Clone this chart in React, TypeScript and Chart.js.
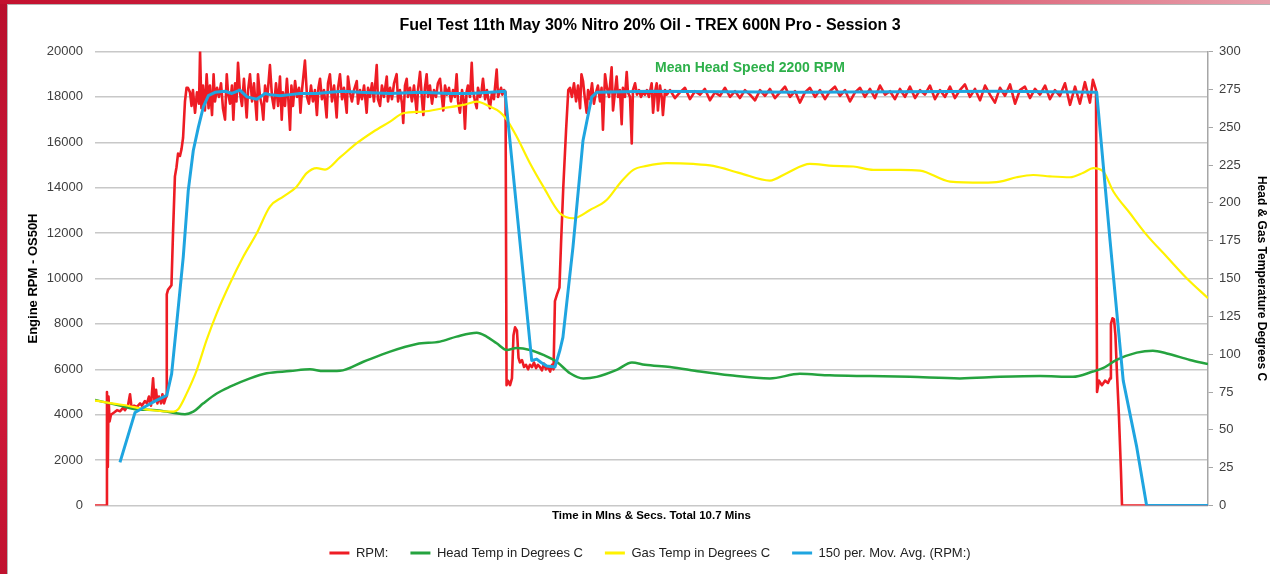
import React, { useEffect, useRef } from "react";
import { Chart, registerables } from "chart.js";

Chart.register(...registerables);

// ---- Data (time in seconds, total 10.7 mins = 642 s) ----
const totalSeconds = 642;

// [time s, RPM]
const rpmSeries: [number, number][] = [
  [0, 0], [6.6, 0], [6.9, 5000], [7.4, 1700], [7.8, 4800], [8.4, 3700], [9.2, 4000], [11.0, 4100],
  [12.7, 4200], [14.4, 4150], [16.2, 4300], [17.3, 4200], [19.0, 4400], [20.2, 4900], [21.1, 4300],
  [22.5, 4400], [24.2, 4350], [26.0, 4500], [27.1, 4400], [28.8, 4600], [30.0, 4500], [31.1, 4800],
  [32.3, 4400], [33.5, 5600], [34.3, 4600], [35.2, 5100], [36.0, 4500], [36.9, 4800], [38.1, 4500],
  [38.9, 4900], [39.8, 4500], [41.0, 4800], [41.4, 9300], [42.1, 9500], [44.1, 9700], [45.0, 12000],
  [46.1, 14500], [47.0, 14900], [47.9, 15500], [49.0, 15400], [49.9, 15700], [50.8, 16200], [51.9, 17800],
  [52.8, 18400], [53.6, 18400], [54.8, 18200], [55.7, 17600], [56.5, 18300], [57.7, 17300], [58.8, 18200],
  [60.0, 17700], [60.6, 20000], [61.4, 17500], [62.3, 18500], [63.4, 17400], [64.4, 19000], [65.5, 17500],
  [66.3, 18500], [67.5, 17200], [68.4, 19000], [69.2, 17800], [70.4, 18400], [71.5, 18000], [72.7, 18600],
  [73.8, 17500], [75.0, 17000], [76.0, 19000], [76.7, 18200], [77.9, 17700], [79.0, 18500], [79.8, 17000],
  [80.8, 18600], [81.6, 17800], [82.5, 19500], [83.6, 18200], [84.8, 17600], [85.9, 18800], [87.5, 17100],
  [88.3, 18300], [89.4, 19000], [90.6, 17800], [91.7, 18600], [93.3, 17000], [94.0, 19000], [95.2, 18000],
  [96.3, 17600], [97.1, 17000], [98.1, 18500], [99.2, 17800], [100.9, 19400], [102.1, 18000], [103.2, 17500],
  [104.4, 18600], [105.6, 17600], [106.7, 18900], [107.7, 17000], [108.4, 18200], [109.6, 17600], [110.7, 18800],
  [111.6, 17800], [112.5, 16550], [113.3, 18500], [114.2, 17600], [115.4, 18700], [116.5, 18000], [117.7, 18400],
  [118.5, 17300], [119.4, 18300], [121.1, 19600], [122.3, 18000], [123.4, 17700], [124.6, 18500], [125.7, 17800],
  [126.9, 18300], [128.0, 17200], [128.9, 18400], [129.8, 18800], [130.9, 17900], [132.1, 18300], [133.6, 17100],
  [134.4, 18600], [135.5, 19000], [136.7, 17800], [137.9, 18500], [139.4, 17100], [140.2, 18400], [141.3, 19000],
  [142.5, 17900], [143.6, 18400], [145.2, 17300], [145.9, 18900], [147.1, 18200], [148.2, 17800], [149.4, 18300],
  [151.0, 18700], [151.7, 17700], [152.9, 18300], [154.0, 17900], [155.2, 18500], [156.7, 17300], [157.5, 18400],
  [158.6, 18000], [159.8, 18600], [160.9, 17800], [162.5, 19400], [163.2, 17900], [164.4, 17600], [165.5, 18500],
  [166.7, 18000], [168.3, 18900], [169.0, 17800], [170.2, 18400], [171.3, 17900], [172.5, 18600], [174.0, 19000],
  [174.8, 17800], [175.9, 18300], [177.1, 17700], [177.8, 16850], [178.8, 18500], [179.8, 18800], [180.5, 18000],
  [181.7, 18400], [182.8, 17800], [184.0, 18500], [185.6, 17300], [186.3, 18300], [187.5, 19100], [188.6, 17900],
  [189.4, 17200], [190.3, 18400], [191.3, 19000], [192.1, 18000], [193.2, 18500], [194.4, 17700], [195.5, 18300],
  [196.7, 18000], [197.8, 18600], [199.0, 18800], [200.2, 17900], [200.9, 17400], [201.9, 18500], [203.0, 18100],
  [204.2, 18400], [205.3, 17800], [206.5, 18300], [207.6, 18000], [208.6, 19000], [209.4, 17800], [210.5, 17300],
  [211.7, 18300], [212.6, 17900], [213.4, 16600], [214.3, 18200], [215.1, 18500], [216.3, 18000], [217.3, 19500],
  [218.0, 18300], [219.2, 17800], [220.2, 17500], [220.9, 18400], [222.1, 18000], [222.9, 18200], [223.8, 18800],
  [225.0, 17900], [226.1, 18300], [227.3, 17700], [227.8, 17500], [229.0, 18200], [230.1, 17900], [231.7, 19200],
  [232.5, 18000], [233.3, 18200], [234.2, 18400], [235.0, 18100], [235.9, 18300], [236.8, 18200], [237.4, 5300],
  [238.2, 5500], [239.4, 5300], [240.5, 5600], [241.4, 7500], [242.3, 7850], [243.4, 7700], [244.3, 6500],
  [245.1, 6300], [246.3, 6400], [247.5, 6100], [248.6, 6200], [249.8, 6000], [250.9, 6200], [252.1, 6100],
  [253.2, 6300], [254.4, 6050], [255.5, 6200], [256.7, 6100], [257.8, 5950], [259.0, 6250], [260.1, 6000],
  [261.3, 6100], [262.5, 5900], [263.6, 6200], [264.5, 6000], [265.3, 9000], [266.5, 9300], [267.9, 9600],
  [268.8, 11500], [270.1, 14000], [271.7, 16500], [273.0, 18300], [274.0, 18400], [275.1, 18000], [276.3, 18600],
  [277.5, 17800], [278.6, 18500], [279.8, 17500], [280.6, 19000], [281.5, 18700], [282.6, 17900], [283.6, 17300],
  [284.4, 18300], [285.5, 17900], [286.7, 18600], [287.8, 17700], [289.0, 18200], [290.1, 18500], [291.3, 17800],
  [292.2, 18400], [293.0, 16550], [294.2, 19000], [295.3, 18400], [296.5, 18000], [298.0, 19300], [298.8, 17400],
  [299.9, 18200], [300.9, 18900], [301.7, 18000], [302.8, 18300], [303.8, 16800], [304.5, 18400], [305.7, 18000],
  [306.7, 19100], [307.4, 18200], [308.6, 18000], [309.6, 15950], [310.3, 18300], [311.5, 18600], [312.6, 18100],
  [313.8, 18300], [314.9, 18000], [316.1, 18200], [317.2, 18100], [318.4, 18300], [319.5, 18000], [321.1, 18600],
  [321.9, 17300], [323.0, 18200], [324.0, 18600], [324.7, 17400], [325.9, 18500], [326.9, 18000], [327.6, 17200],
  [328.8, 18300], [329.9, 18100], [331.7, 18300], [334.5, 17950], [337.4, 18200], [340.3, 18400], [343.2, 17900],
  [346.1, 18250], [349.0, 18100], [351.8, 18350], [354.7, 17850], [357.6, 18200], [360.5, 18050], [363.4, 18400],
  [366.3, 18000], [369.2, 18250], [372.0, 17950], [374.9, 18300], [377.8, 18100], [380.7, 17850], [383.6, 18300],
  [386.5, 18050], [389.3, 18350], [392.2, 17950], [395.1, 18200], [398.0, 18450], [400.9, 18000], [403.8, 18250],
  [406.6, 17750], [409.5, 18200], [412.4, 18400], [415.3, 18000], [418.2, 18300], [421.1, 17900], [423.9, 18250],
  [426.8, 18450], [429.7, 18050], [432.6, 18300], [435.5, 17800], [438.4, 18200], [441.3, 18400], [444.1, 18000],
  [447.0, 18350], [449.9, 17950], [452.8, 18500], [455.7, 18100], [458.6, 18250], [461.4, 17900], [464.3, 18350],
  [467.2, 18000], [470.1, 18450], [473.0, 17950], [475.9, 18300], [478.7, 18100], [481.6, 18500], [484.5, 17900],
  [487.4, 18300], [490.3, 18000], [493.2, 18450], [496.0, 17950], [498.9, 18300], [501.8, 18550], [504.7, 18000],
  [507.6, 18350], [510.5, 17850], [513.4, 18500], [516.2, 18100], [519.1, 17750], [522.0, 18400], [524.9, 18050],
  [527.8, 18550], [530.7, 17700], [533.5, 18300], [536.4, 18450], [539.3, 17950], [542.2, 18350], [545.1, 18100],
  [548.0, 18500], [550.8, 17900], [553.7, 18300], [556.6, 18050], [559.5, 18600], [562.4, 17650], [565.3, 18450],
  [568.1, 17700], [571.0, 18650], [573.9, 17750], [575.6, 18750], [577.4, 18300], [578.0, 5000], [579.1, 5500],
  [580.8, 5300], [582.6, 5500], [584.3, 5400], [585.5, 5600], [586.0, 8000], [586.9, 8250], [587.8, 8200],
  [588.6, 7500], [589.5, 5800], [590.6, 4000], [591.8, 1500], [592.4, 0], [642.0, 0],
];

// [time s, °C]
const headTempSeries: [number, number][] = [
  [0, 69.7], [8.7, 67.5], [16.2, 65.5], [24.1, 63.5], [35.6, 63], [44.9, 61.3], [51.9, 60.3], [56.7, 62],
  [62.5, 67.5], [70.2, 74], [77.9, 78.5], [89.4, 84], [99.0, 87.4], [112.5, 88.8], [124.0, 90], [131.7, 88.8],
  [141.3, 89], [154.8, 95], [170.2, 101.7], [185.6, 106.7], [199.0, 108.3], [208.6, 111.6], [220.2, 114.2],
  [225.9, 111.6], [231.7, 107.2], [237.5, 102.8], [243.2, 104], [250.9, 102.8], [258.6, 99.5], [266.3, 95],
  [274.0, 87.4], [281.7, 84], [289.4, 85], [300.9, 89.6], [309.7, 94.5], [317.2, 93], [331.7, 91.5],
  [349.0, 88.5], [366.3, 86], [389.3, 84], [406.6, 87], [423.9, 86], [447.0, 85.5], [470.1, 85], [498.9, 84],
  [522.0, 85], [545.1, 85.5], [564.1, 85], [575.6, 88.5], [581.4, 90.7], [589.3, 96.2], [600.9, 101],
  [610.2, 102.3], [618.2, 100.5], [631.6, 96.2], [642, 93.5],
];

// [time s, °C]
const gasTempSeries: [number, number][] = [
  [0, 69.3], [16.3, 66.4], [31.7, 63.1], [45.2, 62], [48.0, 63.6], [52.9, 74.1], [58.7, 89.5], [64.4, 109.4],
  [70.2, 127], [77.9, 146.9], [85.5, 164.4], [93.3, 179.9], [100.9, 197.5], [108.6, 204.1], [116.3, 210.7],
  [122.1, 219.6], [127.9, 222.9], [132.7, 222], [141.3, 230], [151.0, 239.4], [160.5, 247], [170.2, 253.7],
  [177.8, 259.2], [189.4, 260.3], [200.9, 262.5], [212.4, 264.7], [220.2, 266.9], [227.8, 263.6], [233.6, 260],
  [237.5, 255], [243.2, 243.8], [250.9, 226.2], [258.6, 210.7], [268.2, 193.1], [275.9, 189.8], [285.5, 195.3],
  [295.1, 201.9], [302.8, 213], [310.5, 221.8], [318.2, 224.4], [329.8, 226.2], [345.1, 225.7], [356.6, 224.4],
  [372.0, 219.6], [389.3, 214.7], [399.0, 219.6], [412.4, 225.7], [425.9, 224.4], [437.4, 224], [448.9, 221.8],
  [464.3, 221.8], [475.9, 221.3], [493.2, 214], [512.4, 213.3], [522.0, 214], [531.6, 216.9], [541.2, 218.4],
  [550.8, 217.5], [562.4, 216.9], [570.1, 219.9], [575.8, 222.9], [581.6, 220.7], [587.4, 207.5], [597.0, 193.1],
  [606.6, 178.8], [618.2, 164.4], [629.7, 150.2], [642, 137],
];

// [time s, RPM] 150 period moving average
const movAvgSeries: [number, number][] = [
  [14.4, 1900], [23.1, 4100], [28.8, 4350], [34.6, 4600], [41.4, 4850], [44.2, 5800], [47.1, 8000],
  [50.9, 10940], [53.8, 13880], [56.7, 15640], [59.6, 16660], [62.5, 17560], [65.4, 18060], [69.2, 18200],
  [75.0, 18250], [79.0, 18150], [83.6, 18300], [87.7, 18000], [93.3, 17900], [98.1, 18150], [100.9, 18100],
  [106.7, 18050], [112.5, 18100], [118.2, 18150], [127.9, 18150], [135.5, 18200], [143.0, 18250], [152.9, 18200],
  [170.2, 18150], [187.5, 18200], [204.8, 18150], [216.3, 18150], [227.8, 18200], [236.5, 18250], [251.9, 6390],
  [254.8, 6450], [257.3, 6300], [260.5, 6150], [265.3, 6100], [268.2, 6850], [269.9, 7410], [275.7, 11380],
  [281.5, 16080], [286.5, 17990], [289.4, 18200], [320.1, 18250], [406.6, 18200], [522.0, 18250], [577.8, 18200],
  [585.5, 11670], [593.1, 5500], [600.9, 2570], [606.6, 0], [642, 0],
];

const seriesNames = ["RPM:", "Head Temp in Degrees C", "Gas Temp in Degrees C", "150 per. Mov. Avg. (RPM:)"];
const chartTitle = "Fuel Test 11th May 30% Nitro 20% Oil - TREX 600N Pro - Session 3";
const xTitle = "Time in MIns & Secs. Total 10.7 Mins";
const yTitle = "Engine RPM - OS50H";
const y1Title = "Head & Gas Temperature Degrees C";
const annotationText = "Mean Head Speed 2200 RPM";
const annotationAt: [number, number] = [323, 19270];

const FONT = '"Liberation Sans", Arial, sans-serif';

const toXY = (s: [number, number][]) => s.map(([x, y]) => ({ x, y }));

const annotationPlugin = {
  id: "meanHeadSpeed",
  afterDatasetsDraw(chart: any) {
    const { ctx, scales } = chart;
    const x = scales.x.getPixelForValue(annotationAt[0]);
    const y = scales.y.getPixelForValue(annotationAt[1]);
    ctx.save();
    ctx.font = `bold 14px ${FONT}`;
    ctx.fillStyle = "#2db04a";
    ctx.textAlign = "left";
    ctx.textBaseline = "middle";
    ctx.fillText(annotationText, x, y);
    ctx.restore();
  },
};

export default function App() {
  const ref = useRef<HTMLCanvasElement>(null);

  useEffect(() => {
    if (!ref.current) return;
    Chart.defaults.font.family = FONT;
    const chart = new Chart(ref.current, {
      type: "line",
      data: {
        datasets: [
          {
            label: seriesNames[0],
            data: toXY(rpmSeries),
            yAxisID: "y",
            borderColor: "#ee1c24",
            backgroundColor: "#ee1c24",
            borderWidth: 2.6,
            pointBorderWidth: 3,
            borderJoinStyle: "round",
            order: 4,
          },
          {
            label: seriesNames[1],
            data: toXY(headTempSeries),
            yAxisID: "y1",
            borderColor: "#25a33f",
            backgroundColor: "#25a33f",
            borderWidth: 2.5,
            pointBorderWidth: 3,
            cubicInterpolationMode: "monotone",
            order: 3,
          },
          {
            label: seriesNames[2],
            data: toXY(gasTempSeries),
            yAxisID: "y1",
            borderColor: "#fff200",
            backgroundColor: "#fff200",
            borderWidth: 2.2,
            pointBorderWidth: 3,
            cubicInterpolationMode: "monotone",
            order: 2,
          },
          {
            label: seriesNames[3],
            data: toXY(movAvgSeries),
            yAxisID: "y",
            borderColor: "#1fa5e0",
            backgroundColor: "#1fa5e0",
            borderWidth: 3,
            pointBorderWidth: 3,
            borderJoinStyle: "round",
            order: 1,
          },
        ],
      },
      options: {
        animation: false,
        responsive: false,
        events: [],
        elements: { point: { radius: 0 }, line: { tension: 0 } },
        layout: { padding: { left: 30, right: 0, top: 0, bottom: 4.5 } },
        plugins: {
          title: {
            display: true,
            text: chartTitle,
            color: "#000",
            font: { size: 16, weight: "bold", family: FONT },
            padding: { top: 16.4, bottom: 15.9 },
          },
          legend: {
            position: "bottom",
            labels: {
              usePointStyle: true,
              pointStyle: "line",
              pointStyleWidth: 20,
              color: "#222",
              font: { size: 13, family: FONT },
              padding: 22,
              sort: (a: any, b: any) => a.datasetIndex - b.datasetIndex,
            },
          },
          tooltip: { enabled: false },
        },
        scales: {
          x: {
            type: "linear",
            min: 0,
            max: totalSeconds,
            ticks: { display: false },
            grid: { display: false },
            border: { display: false },
            title: {
              display: true,
              text: xTitle,
              color: "#000",
              font: { size: 11.5, weight: "bold", family: FONT },
              padding: { top: 0, bottom: 1.6 },
            },
            afterFit: (s: any) => {
              s.height = 19;
            },
          },
          y: {
            position: "left",
            min: 0,
            max: 20000,
            ticks: {
              stepSize: 2000,
              color: "#404040",
              font: { size: 13, family: FONT },
              padding: 12,
              callback: (v: any) => String(v),
            },
            grid: { color: "#c8c8c8", lineWidth: 1.5, drawTicks: false },
            border: { display: false },
            title: {
              display: true,
              text: yTitle,
              color: "#000",
              font: { size: 13, weight: "bold", family: FONT },
              padding: { top: -4.8, bottom: 0 },
            },
            afterFit: (s: any) => {
              s.width = 65;
            },
          },
          y1: {
            position: "right",
            min: 0,
            max: 300,
            ticks: {
              stepSize: 25,
              color: "#404040",
              font: { size: 13, family: FONT },
              padding: 6,
              callback: (v: any) => String(v),
            },
            grid: { drawOnChartArea: false, drawTicks: true, tickLength: 5, color: "#a6a6a6" },
            border: { display: true, color: "#a6a6a6", width: 1.5 },
            title: {
              display: true,
              text: y1Title,
              color: "#000",
              font: { size: 12, weight: "bold", family: FONT },
              padding: { top: 1.8, bottom: 0 },
            },
            afterFit: (s: any) => {
              s.width = 62;
            },
          },
        },
      },
      plugins: [annotationPlugin],
    } as any);
    return () => chart.destroy();
  }, []);

  return (
    <div
      style={{
        position: "fixed",
        left: 0,
        top: 0,
        width: 1270,
        height: 574,
        background: "linear-gradient(180deg, #b80f2c 0%, #d21a3c 60%, #c0122f 100%)",
        overflow: "hidden",
      }}
    >
      <div
        style={{
          position: "absolute",
          left: 0,
          top: 0,
          width: 1270,
          height: 4,
          background: "linear-gradient(90deg, #c3112f 0%, #d63a55 60%, #e7a0ac 100%)",
        }}
      />
      <div
        style={{
          position: "absolute",
          left: 7,
          top: 4,
          right: 0,
          bottom: 0,
          background: "#ffffff",
          borderLeft: "1px solid #b5b5b5",
          borderTop: "1px solid #b5b5b5",
        }}
      />
      <canvas ref={ref} width={1270} height={574} style={{ position: "absolute", left: 0, top: 0 }} />
    </div>
  );
}
